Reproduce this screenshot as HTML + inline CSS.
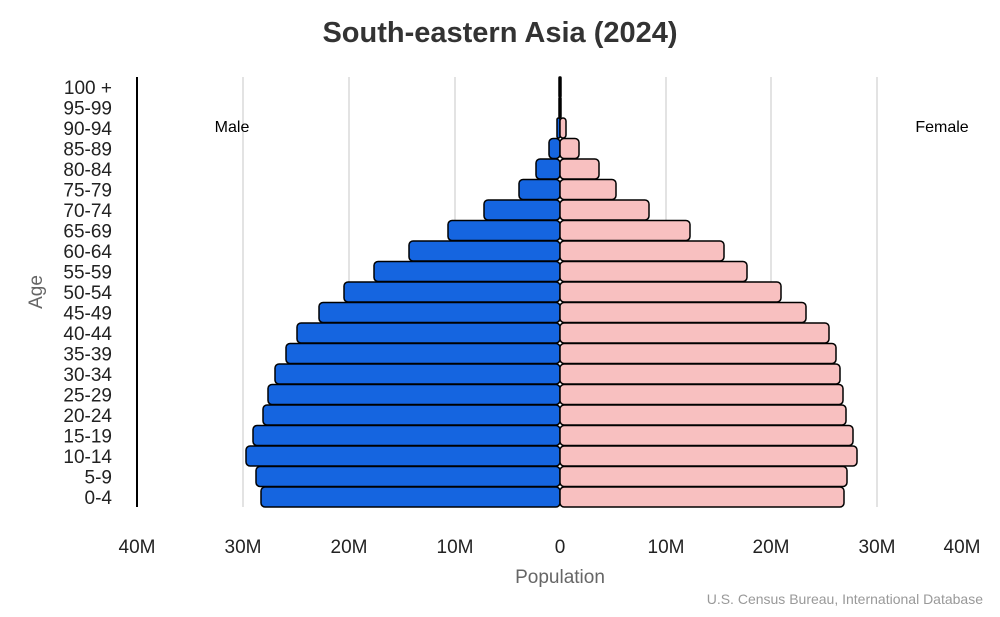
<!DOCTYPE html>
<html><head><meta charset="utf-8"><style>
body{margin:0;background:#fff;}
svg text{font-family:"Liberation Sans",Arial,sans-serif;}
</style></head><body>
<svg width="1000" height="612" viewBox="0 0 1000 612" xmlns="http://www.w3.org/2000/svg">
<rect width="1000" height="612" fill="#fff"/>
<text x="500" y="42" text-anchor="middle" font-size="29" font-weight="bold" fill="#333">South-eastern Asia (2024)</text>
<g stroke="#e3e3e3" stroke-width="2">
<line x1="243" y1="77" x2="243" y2="507"/><line x1="349" y1="77" x2="349" y2="507"/><line x1="455" y1="77" x2="455" y2="507"/>
<line x1="666" y1="77" x2="666" y2="507"/><line x1="771" y1="77" x2="771" y2="507"/><line x1="877" y1="77" x2="877" y2="507"/>
</g>
<line x1="137" y1="77" x2="137" y2="507" stroke="#000" stroke-width="2"/>
<g stroke="#000" stroke-width="1.5" fill="#1565e0">
<rect x="559" y="77" width="1" height="20" rx="1"/>
<rect x="559" y="97.5" width="1" height="20" rx="1"/>
<rect x="557" y="118" width="3" height="20" rx="1.5"/>
<rect x="549" y="138.5" width="11" height="20" rx="4"/>
<rect x="536" y="159" width="24" height="20" rx="4"/>
<rect x="519" y="179.5" width="41" height="20" rx="4"/>
<rect x="484" y="200" width="76" height="20" rx="4"/>
<rect x="448" y="220.5" width="112" height="20" rx="4"/>
<rect x="409" y="241" width="151" height="20" rx="4"/>
<rect x="374" y="261.5" width="186" height="20" rx="4"/>
<rect x="344" y="282" width="216" height="20" rx="4"/>
<rect x="319" y="302.5" width="241" height="20" rx="4"/>
<rect x="297" y="323" width="263" height="20" rx="4"/>
<rect x="286" y="343.5" width="274" height="20" rx="4"/>
<rect x="275" y="364" width="285" height="20" rx="4"/>
<rect x="268" y="384.5" width="292" height="20" rx="4"/>
<rect x="263" y="405" width="297" height="20" rx="4"/>
<rect x="253" y="425.5" width="307" height="20" rx="4"/>
<rect x="246" y="446" width="314" height="20" rx="4"/>
<rect x="256" y="466.5" width="304" height="20" rx="4"/>
<rect x="261" y="487" width="299" height="20" rx="4"/>
</g>
<g stroke="#000" stroke-width="1.5" fill="#f8c0c0">
<rect x="560" y="77" width="1" height="20" rx="1"/>
<rect x="560" y="97.5" width="1" height="20" rx="1"/>
<rect x="560" y="118" width="6" height="20" rx="3"/>
<rect x="560" y="138.5" width="19" height="20" rx="4"/>
<rect x="560" y="159" width="39" height="20" rx="4"/>
<rect x="560" y="179.5" width="56" height="20" rx="4"/>
<rect x="560" y="200" width="89" height="20" rx="4"/>
<rect x="560" y="220.5" width="130" height="20" rx="4"/>
<rect x="560" y="241" width="164" height="20" rx="4"/>
<rect x="560" y="261.5" width="187" height="20" rx="4"/>
<rect x="560" y="282" width="221" height="20" rx="4"/>
<rect x="560" y="302.5" width="246" height="20" rx="4"/>
<rect x="560" y="323" width="269" height="20" rx="4"/>
<rect x="560" y="343.5" width="276" height="20" rx="4"/>
<rect x="560" y="364" width="280" height="20" rx="4"/>
<rect x="560" y="384.5" width="283" height="20" rx="4"/>
<rect x="560" y="405" width="286" height="20" rx="4"/>
<rect x="560" y="425.5" width="293" height="20" rx="4"/>
<rect x="560" y="446" width="297" height="20" rx="4"/>
<rect x="560" y="466.5" width="287" height="20" rx="4"/>
<rect x="560" y="487" width="284" height="20" rx="4"/>
</g>
<g font-size="19" fill="#222" text-anchor="end">
<text x="112" y="94">100 +</text>
<text x="112" y="114.5">95-99</text>
<text x="112" y="135">90-94</text>
<text x="112" y="155.5">85-89</text>
<text x="112" y="176">80-84</text>
<text x="112" y="196.5">75-79</text>
<text x="112" y="217">70-74</text>
<text x="112" y="237.5">65-69</text>
<text x="112" y="258">60-64</text>
<text x="112" y="278.5">55-59</text>
<text x="112" y="299">50-54</text>
<text x="112" y="319.5">45-49</text>
<text x="112" y="340">40-44</text>
<text x="112" y="360.5">35-39</text>
<text x="112" y="381">30-34</text>
<text x="112" y="401.5">25-29</text>
<text x="112" y="422">20-24</text>
<text x="112" y="442.5">15-19</text>
<text x="112" y="463">10-14</text>
<text x="112" y="483.5">5-9</text>
<text x="112" y="504">0-4</text>
</g>
<text x="232" y="132" font-size="16" text-anchor="middle">Male</text>
<text x="942" y="132" font-size="16" text-anchor="middle">Female</text>
<text transform="translate(42,292) rotate(-90)" font-size="19" fill="#666" text-anchor="middle">Age</text>
<g font-size="19" fill="#222" text-anchor="middle">
<text x="137" y="553">40M</text><text x="243" y="553">30M</text><text x="349" y="553">20M</text><text x="455" y="553">10M</text><text x="560" y="553">0</text>
<text x="666" y="553">10M</text><text x="771" y="553">20M</text><text x="877" y="553">30M</text><text x="962" y="553">40M</text>
</g>
<text x="560" y="583" font-size="19" fill="#666" text-anchor="middle">Population</text>
<text x="983" y="604" font-size="14" fill="#999" text-anchor="end">U.S. Census Bureau, International Database</text>
</svg>
</body></html>
